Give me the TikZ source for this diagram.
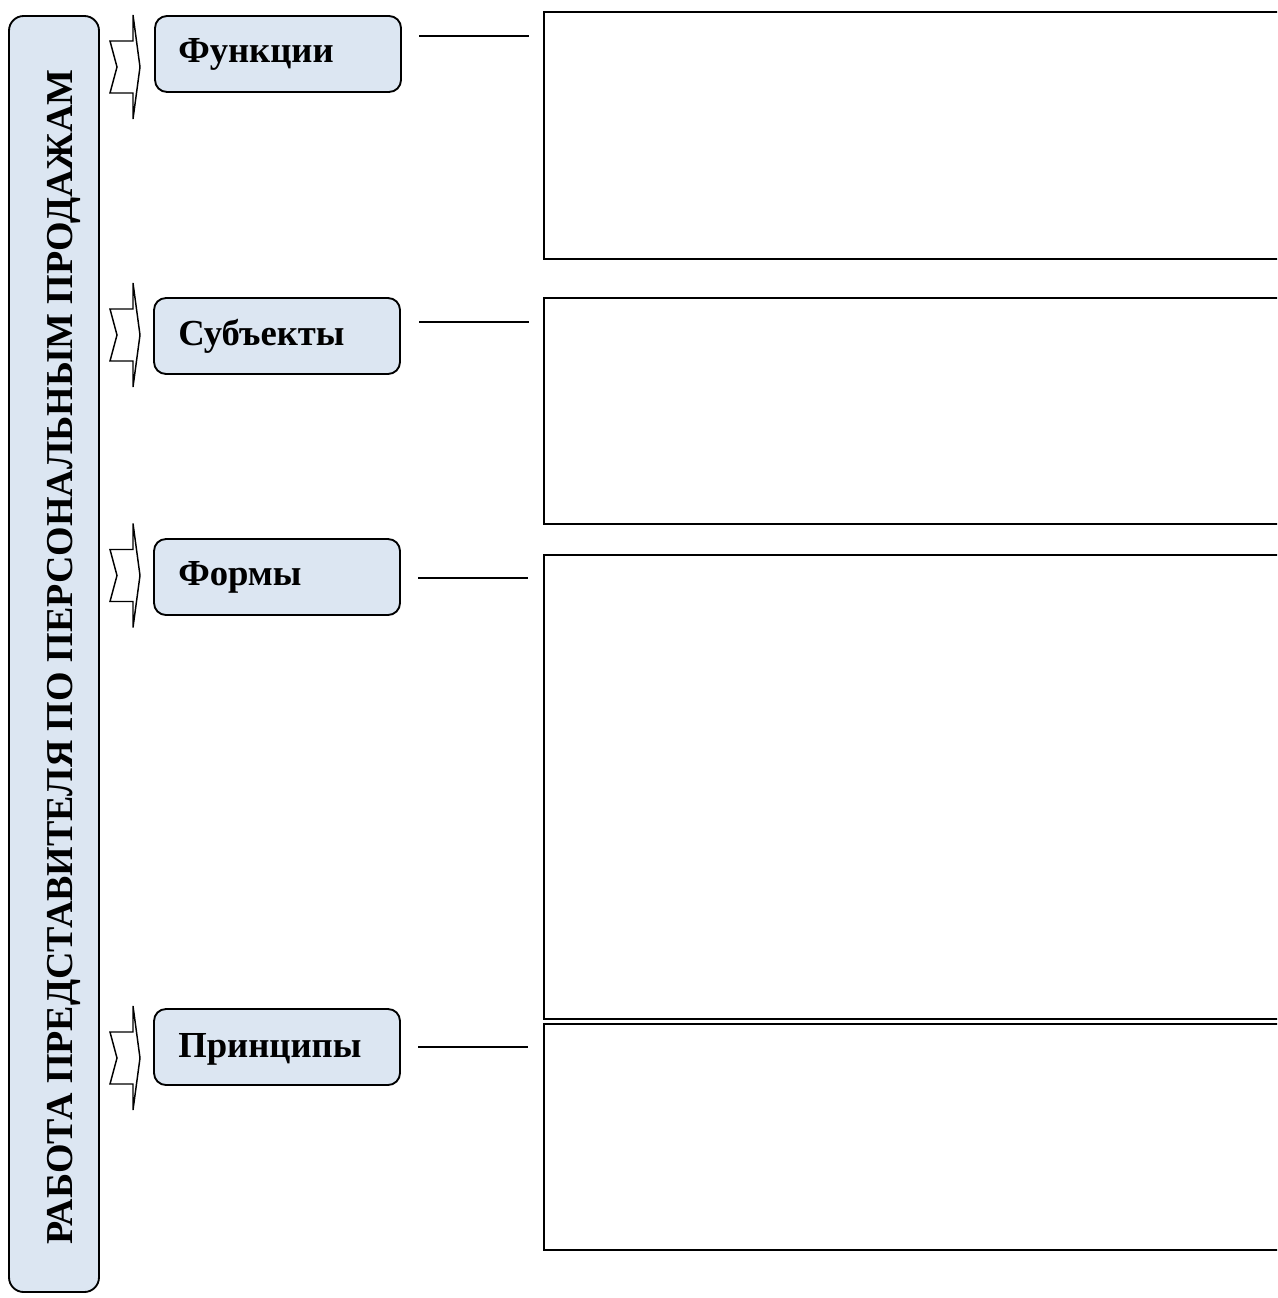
\documentclass[tikz,border=0pt]{standalone}
\usepackage{fontspec}
\setmainfont{Liberation Serif}
\definecolor{paleblue}{HTML}{DCE6F2}
\begin{document}
\begin{tikzpicture}[x=0.75pt,y=-0.75pt,
  mainbox/.style={draw=black, line width=1.4pt, fill=paleblue, rounded corners=11pt,
    minimum width=67.5pt, minimum height=957pt, anchor=north west, inner sep=0pt, outer sep=0pt},
  titletext/.style={font=\bfseries\fontsize{28.5pt}{30pt}\selectfont, rotate=90, anchor=base, inner sep=0pt},
  labelbox/.style={draw=black, line width=1.4pt, fill=paleblue, rounded corners=9pt,
    minimum width=184.5pt, minimum height=57pt, inner sep=0pt, anchor=north west, outer sep=0pt},
  labeltext/.style={font=\bfseries\fontsize{27.5pt}{30pt}\selectfont, anchor=base west, inner sep=0pt},
  contentbox/.style={draw=black, line width=1.5pt, minimum width=567pt, anchor=north west,
    inner sep=0pt, outer sep=0pt},
  notcharrow/.style={draw=black, line width=1.1pt, line join=miter, fill=white},
  link/.style={draw=black, line width=1.5pt}
]
\useasboundingbox (0,0) rectangle (1277,1298);
\clip (0,0) rectangle (1277,1298);

% main vertical box
\node[mainbox] (main) at (9,16) {};
\node[titletext] (title) at (72,657) {\bfseries РАБОТА ПРЕДСТАВИТЕЛЯ ПО ПЕРСОНАЛЬНЫМ ПРОДАЖАМ};

% notched arrows
\foreach \m in {67,335,575.5,1058}{
  \path[notcharrow] (110,\m-26) -- (133,\m-26) -- (133,\m-52) -- (140,\m)
    -- (133,\m+52) -- (133,\m+26) -- (110,\m+26) -- (117,\m) -- cycle;
}

% label boxes
\node[labelbox] (l1) at (155,16) {};
\node[labelbox] (l2) at (154,298) {};
\node[labelbox] (l3) at (154,539) {};
\node[labelbox] (l4) at (154,1009) {};
\node[labeltext] (t1) at (178,63) {Функции};
\node[labeltext] (t2) at (178,345) {Субъекты};
\node[labeltext] (t3) at (178,585) {Формы};
\node[labeltext] (t4) at (178,1057) {Принципы};

% content boxes
\node[contentbox, minimum height=185.25pt] (r1) at (544,12) {};
\node[contentbox, minimum height=169.5pt] (r2) at (544,298) {};
\node[contentbox, minimum height=348pt] (r3) at (544,555) {};
\node[contentbox, minimum height=169.5pt] (r4) at (544,1024) {};

% connectors
\coordinate (a1) at (419,36);  \coordinate (b1) at (529,36);
\coordinate (a2) at (419,322); \coordinate (b2) at (529,322);
\coordinate (a3) at (418,578); \coordinate (b3) at (528,578);
\coordinate (a4) at (418,1047); \coordinate (b4) at (528,1047);
\draw[link] (a1) -- (b1);
\draw[link] (a2) -- (b2);
\draw[link] (a3) -- (b3);
\draw[link] (a4) -- (b4);
\end{tikzpicture}
\end{document}
